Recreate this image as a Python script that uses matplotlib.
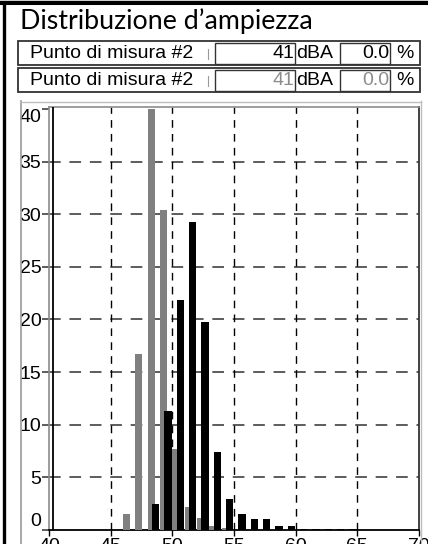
import matplotlib
matplotlib.use("Agg")
import matplotlib.pyplot as plt
from matplotlib.patches import Rectangle
from matplotlib.lines import Line2D

W, H = 428, 544

# livelli (dBA) e percentuali delle due misure
levels_ref = [46, 47, 48, 49, 50, 51, 52, 53, 54]
pct_ref = [1.5, 16.7, 40.0, 30.4, 7.7, 2.2, 1.1, 0.4, 0.2]

levels_cur = [48, 49, 50, 51, 52, 53, 54, 55, 56, 57, 58, 59, 60, 61, 62, 63, 64]
pct_cur = [2.5, 11.3, 21.9, 29.3, 19.8, 7.45, 2.95, 1.5, 1.0, 1.05, 0.4, 0.4,
           0.1, 0.1, 0.1, 0.1, 0.1]

x_ticks = [40, 45, 50, 55, 60, 65, 70]
y_ticks = [0, 5, 10, 15, 20, 25, 30, 35, 40]

rows = [
    ("Punto di misura #2", "41", "0.0", "black"),
    ("Punto di misura #2", "41", "0.0", "#8c8c8c"),
]

ARIAL = ["Liberation Sans", "DejaVu Sans"]
FS = 14


def fx(x):
    return x / W


def fy(y):
    return 1 - y / H


def box(fig, x0, y0, x1, y1, color="black", lw=1.0):
    fig.patches.append(Rectangle((fx(x0), fy(y1)), (x1 - x0) / W, (y1 - y0) / H,
                                 transform=fig.transFigure, fill=False,
                                 edgecolor=color, linewidth=lw))


def hline(fig, x0, x1, y, color="black", lw=1.0):
    fig.lines.append(Line2D([fx(x0), fx(x1)], [fy(y), fy(y)], transform=fig.transFigure,
                            color=color, linewidth=lw))


def vline(fig, x, y0, y1, color="black", lw=1.0):
    fig.lines.append(Line2D([fx(x), fx(x)], [fy(y0), fy(y1)], transform=fig.transFigure,
                            color=color, linewidth=lw))


fig = plt.figure(figsize=(W / 100, H / 100), dpi=100)
fig.patch.set_facecolor("white")

# cornice esterna
hline(fig, 0, W, 0.5, lw=1.0)
hline(fig, 0, W, 3.2, lw=2.2)
vline(fig, 4.2, 3, H, lw=2.4)

fig.text(fx(20), fy(29), "Distribuzione d\u2019ampiezza", fontsize=19.3,
         family=["Lato", "DejaVu Sans"], va="baseline", ha="left")

# righe con i valori
for i, (name, val, pct, vcol) in enumerate(rows):
    top = 41 + i * 27
    bot = top + 24
    mid = (top + bot) / 2 + 0.5
    box(fig, 18, top, 420, bot, color="#333333", lw=1.3)
    fig.text(fx(30), fy(mid), name, fontsize=FS, family=ARIAL, va="center", ha="left")
    vline(fig, 208, top + 8, bot - 6, color="#999999", lw=0.8)
    box(fig, 215, top + 2, 295, bot - 1.5, color="#333333", lw=1.0)
    fig.text(fx(294), fy(mid), val, fontsize=FS, family=ARIAL, va="center", ha="right",
             color=vcol)
    fig.text(fx(296), fy(mid), "dBA", fontsize=FS, family=ARIAL, va="center", ha="left")
    box(fig, 340, top + 2, 390, bot - 1.5, color="#333333", lw=1.0)
    fig.text(fx(389), fy(mid), pct, fontsize=FS, family=ARIAL, va="center", ha="right",
             color=vcol)
    fig.text(fx(396), fy(mid), "%", fontsize=FS, family=ARIAL, va="center", ha="left")

# pannello del grafico
vline(fig, 20.5, 101, H, color="#9a9a9a", lw=1.2)
hline(fig, 20, 421, 101.5, color="#bdbdbd", lw=1.0)
vline(fig, 421, 101, H, color="#bdbdbd", lw=1.0)

ax = fig.add_axes([fx(49), fy(530), (419 - 49) / W, (530 - 107) / H])
ax.set_xlim(40, 70)
ax.set_ylim(0, 40.19)

ax.bar(levels_ref, pct_ref, width=0.56, align="edge", color="#808080", zorder=3)
ax.bar([v + 0.35 for v in levels_cur], pct_cur, width=0.6, align="edge",
       color="black", zorder=4)

for y in y_ticks[1:-1]:
    ax.axhline(y, color="#5c5c5c", linewidth=1.4, dashes=(6, 4.5), zorder=1)
for x in x_ticks[1:-1]:
    ax.axvline(x, color="black", linewidth=1.0, dashes=(5.5, 4.5), zorder=1)
ax.axvline(40.33, color="black", linewidth=1.3, zorder=5)

ax.set_xticks(x_ticks)
ax.set_xticklabels([str(v) for v in x_ticks], fontsize=FS, family=ARIAL)
ax.set_yticks(y_ticks)
ax.set_yticklabels([str(v) for v in y_ticks], fontsize=FS, family=ARIAL)
ax.tick_params(axis="x", direction="out", length=4, width=1, color="black", pad=2)
ax.tick_params(axis="y", direction="out", length=5, width=1.4, color="#5c5c5c", pad=0.5)
ylabs = ax.get_yticklabels()
ylabs[0].set_va("bottom")
ylabs[-1].set_va("top")

ax.spines["left"].set_color("#8c8c8c")
ax.spines["left"].set_linewidth(1.2)
ax.spines["top"].set_color("#8c8c8c")
ax.spines["top"].set_linewidth(1.2)
ax.spines["right"].set_color("#333333")
ax.spines["right"].set_linewidth(1.3)
ax.spines["bottom"].set_color("black")
ax.spines["bottom"].set_linewidth(1.3)

fig.savefig("out.png", dpi=100)
